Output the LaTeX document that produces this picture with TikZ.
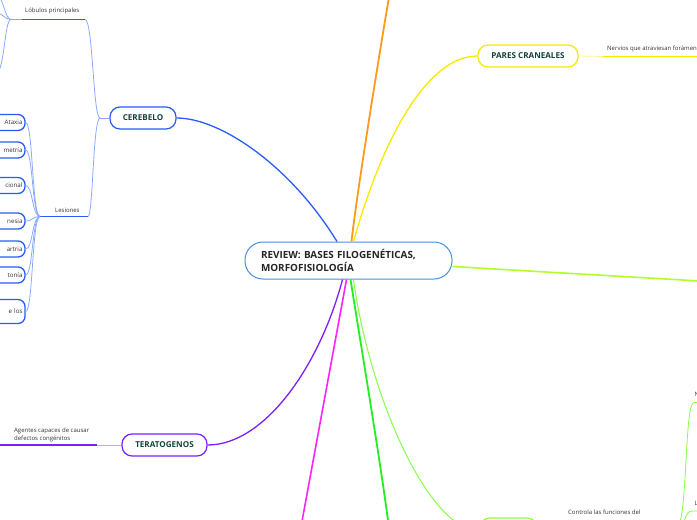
\documentclass[tikz,border=0pt]{standalone}
\usepackage{fontspec}
\setmainfont{Open Sans}
\usetikzlibrary{calc}
\definecolor{dkgreen}{HTML}{12443A}
\definecolor{txtgray}{HTML}{333333}
\definecolor{mainblue}{HTML}{4A90D9}
\definecolor{cblue}{HTML}{2A5CF5}
\definecolor{lblue}{HTML}{8AAAFF}
\definecolor{cyellow}{HTML}{F7EA00}
\definecolor{lyellow}{HTML}{FFF39A}
\definecolor{corange}{HTML}{FF9A1A}
\definecolor{clime}{HTML}{B0FF2A}
\definecolor{cviolet}{HTML}{7B1FFF}
\definecolor{lviolet}{HTML}{C3A6FF}
\definecolor{cmagenta}{HTML}{FF22FF}
\definecolor{cgreen}{HTML}{22EE22}
\definecolor{lgreen}{HTML}{88FF44}
\tikzset{
  mainnode/.style={draw=mainblue, line width=1pt, rounded corners=18pt, fill=white,
    text=black!85, font=\bfseries\fontsize{9.9}{13}\selectfont, align=left,
    text width=175pt, inner xsep=16pt, minimum height=37pt},
  topic/.style={draw=#1, line width=1.2pt, rounded corners=10pt, fill=white,
    text=dkgreen, font=\bfseries\fontsize{8.1}{9}\selectfont, minimum height=22pt, inner xsep=0pt},
  leafnode/.style={draw=cblue, line width=1.3pt, rounded corners=7pt, fill=white,
    text=txtgray, font=\fontsize{6.2}{7}\selectfont, align=right, text width=50pt,
    inner xsep=2.5pt, minimum height=16pt},
  small/.style={text=txtgray, font=\fontsize{6}{8}\selectfont, inner sep=0pt, align=left},
  thin/.style={line width=0.8pt},
  thick/.style={line width=1.4pt},
}
\begin{document}
\begin{tikzpicture}[x=1pt,y=-1pt]
\useasboundingbox (0,0) rectangle (697,520);
\clip (0,0) rectangle (697,520);

% ---- nodes ----
\node[mainnode] (main) at (348.5,260.5) {REVIEW: BASES FILOGENÉTICAS,\\MORFOFISIOLOGÍA};
\node[topic=cblue, minimum width=66pt] (cer) at (143,118) {CEREBELO};
\node[topic=cyellow, minimum width=100pt] (pares) at (528,56) {PARES CRANEALES};
\node[topic=cviolet, minimum width=85pt] (tera) at (164.5,445) {TERATOGENOS};
\node[topic=lgreen, minimum width=57pt, minimum height=26pt] (bot) at (508.5,531) {};

% small labels
\node[small, anchor=south west] (lobt) at (25,14.5) {Lóbulos principales};
\node[small, anchor=south west] (lest) at (55,212.5) {Lesiones};
\node[small, anchor=south west] (nerv) at (607,52) {Nervios que atraviesan forámen};
\node[small, anchor=south west] (aget) at (14,442) {Agentes capaces de causar\\defectos congénitos};
\node[small, anchor=south west] (ctl) at (568,515) {Controla las funciones del};
\node[small, anchor=south west] (nlab) at (694.5,397) {N};
\node[small, anchor=south west] (llab) at (694.5,506) {L};

% lesion leaves
\node[leafnode] (l1) at (-2.5,122.5) {Ataxia};
\node[leafnode] (l2) at (-2.5,150) {metría};
\node[leafnode] (l3) at (-2.5,185.5) {cional};
\node[leafnode] (l4) at (-2.5,221) {nesia};
\node[leafnode] (l5) at (-2.5,249) {artria};
\node[leafnode] (l6) at (-2.5,275) {tonía};
\node[leafnode, minimum height=24pt] (l7) at (-2.5,311.5) {e los};

% coordinates
\coordinate (lobR) at (85,19.5);
\coordinate (lobL) at (22,19.5);
\coordinate (lobJ) at (11,19.5);
\coordinate (c1) at (-8,-8);
\coordinate (c2) at (-6,12);
\coordinate (c3) at (-6,76);
\coordinate (lesR) at (88,216.5);
\coordinate (lesJ) at (40,216.5);
\coordinate (cerJ) at (100,118);
\coordinate (oend) at (389,-3);
\coordinate (limeend) at (700,281);
\coordinate (magend) at (301.5,524);
\coordinate (grnend) at (388.5,524);
\coordinate (nervA) at (603,56.5);
\coordinate (nervB) at (700,56.5);
\coordinate (ageA) at (97,445);
\coordinate (ageB) at (-5,445);
\coordinate (ctlA) at (565,528);
\coordinate (ctlJ) at (676,528);
\coordinate (nU) at (700,402.5);
\coordinate (lU) at (700,511);

% ---- connectors from the central topic ----
\draw[cblue, line width=1.3pt] ($(main.north)+(-11.5,0)$) .. controls (290,165) and (220,118) .. (cer.east);
\draw[corange, line width=1.8pt] ($(main.north)+(3,0)$) .. controls (356,200) and (375,80) .. (oend);
\draw[cyellow, line width=1.3pt] ($(main.north)+(5,0)$) .. controls (385,130) and (430,56) .. (pares.west);
\draw[clime, line width=1.6pt] ($(main.east)+(0,6)$) -- (limeend);
\draw[cviolet, line width=1.3pt] ($(main.south)+(-6,0)$) .. controls (320,365) and (265,445) .. (tera.east);
\draw[cmagenta, line width=1.6pt] ($(main.south)+(-2,0)$) -- (magend);
\draw[cgreen, line width=1.8pt] ($(main.south)+(2,0)$) .. controls (365,370) and (380,460) .. (grnend);
\draw[lgreen, line width=1pt] ($(main.south)+(5,0)$) .. controls (370,400) and (430,531) .. (bot.west);

% ---- CEREBELO subtree ----
\draw[lblue, thin] (cer.west) -- (cerJ);
\draw[lblue, thin] (cerJ) .. controls (93,118) and (93,19.5) .. (lobR);
\draw[lblue, thin] (cerJ) .. controls (93,118) and (93,216.5) .. (lesR);
\draw[cblue, thick] (lobR) -- (lobL);
\draw[lblue, thin] (lobL) -- (lobJ);
\draw[lblue, thin] (lobJ) .. controls (4,19.5) and (4,-8) .. (c1);
\draw[lblue, thin] (lobJ) .. controls (4,19.5) and (2,12) .. (c2);
\draw[lblue, thin] (lobJ) .. controls (4,19.5) and (5,76) .. (c3);
\draw[cblue, thick] (lesR) -- (lesJ);
\foreach \n in {l1,l2,l3,l4,l5,l6,l7}{
  \draw[lblue, thin] (lesJ) .. controls (32,216.5) and (33,0|-\n.east) .. (\n.east);
}

% ---- PARES CRANEALES subtree ----
\draw[lyellow, thin] (pares.east) -- (nervA);
\draw[cyellow, line width=1.6pt] (nervA) -- (nervB);

% ---- TERATOGENOS subtree ----
\draw[lviolet, thin] (tera.west) -- (ageA);
\draw[cviolet, line width=1.6pt] (ageA) -- (ageB);

% ---- bottom green subtree ----
\draw[lgreen, thin] (bot.east) -- (ctlA);
\draw[lgreen, line width=1.2pt] (ctlA) -- (ctlJ);
\draw[lgreen, thin] (ctlJ) .. controls (688,528) and (684,402.5) .. (694,402.5) -- (nU);
\draw[lgreen, thin] (ctlJ) .. controls (686,528) and (684,511) .. (692,511) -- (lU);
\end{tikzpicture}
\end{document}
